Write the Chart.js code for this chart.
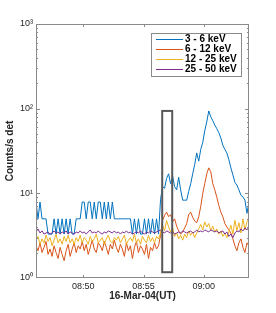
<!DOCTYPE html>
<html>
<head>
<meta charset="utf-8">
<script src="https://cdn.jsdelivr.net/npm/chart.js@4"></script>
<style>
  html, body { margin: 0; padding: 0; background: #ffffff; }
  #wrap { width: 276px; height: 313px; }
</style>
</head>
<body>
<div id="wrap"><canvas id="lcChart" width="276" height="313"></canvas></div>
<script>
// time base: minutes after 08:00, 10 s cadence
const startMinute = 46.08;
const cadenceMin = 1 / 6;

const seriesNames = ['3 - 6 keV', '6 - 12 keV', '12 - 25 keV', '25 - 50 keV'];

const band3to6 = [
    7.9, 5.0, 7.9, 5.0, 5.0, 5.0, 3.3, 3.3, 3.3, 5.0, 3.3, 5.0, 3.3, 5.0, 3.3, 5.0, 3.3, 5.0, 3.3, 3.3, 5.0,
    5.0, 5.0, 7.9, 7.9, 5.0, 7.9, 7.9, 5.0, 7.9, 5.0, 7.9, 7.9, 5.0, 7.9, 5.0, 7.9, 5.0, 7.9, 5.0, 5.0,
    5.0, 5.0, 5.0, 5.0, 5.0, 5.0, 5.0, 3.3, 5.0, 3.3, 5.0, 3.3, 3.3, 5.0, 3.3, 5.0, 3.3, 5.0, 3.3, 5.0, 3.3,
    8.5, 12, 11.5, 15, 17, 13, 16, 12, 11, 15.5, 11, 8.3, 8.3, 8.3, 10.5, 13, 17, 22, 30, 24,
    33, 40, 55, 70, 94, 80, 72, 64, 58, 52, 45, 37, 33, 30, 25, 20, 16.5, 13.5, 12.5, 11, 9.5, 9.1, 8.3, 5.8, 7.9
];

const band6to12 = [
    2.4, 2.1, 2.6, 2.0, 2.3, 2.7, 1.9, 2.2, 1.8, 2.4, 2.0, 1.7, 2.3, 1.9, 1.6, 2.1, 2.5, 1.8, 2.2, 2.6, 2.0,
    2.4, 2.2, 2.7, 2.1, 2.5, 1.9, 2.3, 2.8, 2.2, 2.0, 2.6, 2.4, 2.1, 2.7, 2.3, 1.9, 2.5, 2.2, 2.8, 2.3,
    2.0, 2.5, 2.2, 1.8, 2.6, 2.1, 2.4, 1.7, 2.3, 2.7, 2.0, 2.4, 2.2, 1.9, 2.5, 1.7, 2.3, 2.1, 2.6, 2.2, 2.4,
    3.2, 4.8, 5.5, 6.0, 5.3, 5.6, 4.6, 5.0, 4.1, 3.6, 3.3, 3.5, 3.9, 4.4, 5.6, 6.0, 5.2, 4.7, 4.5, 5.3,
    7.0, 10, 13, 17, 20, 18, 13, 11, 9, 7.2, 6.0, 5.3, 4.4, 4.0, 3.7, 3.4, 2.9, 2.4, 2.1, 2.6, 2.9, 2.3, 2.0, 2.6, 2.4
];

const band12to25 = [
    2.8, 3.1, 2.5, 2.9, 2.6, 3.2, 2.7, 3.0, 2.4, 2.8, 3.3, 2.6, 2.9, 2.5, 3.1, 2.7, 3.2, 2.6, 2.9, 2.5, 3.0,
    2.7, 3.2, 2.6, 3.0, 2.8, 2.5, 3.1, 2.7, 2.9, 3.3, 2.6, 2.8, 3.0, 2.5, 2.9, 3.2, 2.7, 2.6, 3.0, 2.8,
    3.1, 2.6, 2.9, 3.2, 2.5, 2.8, 3.0, 2.7, 3.3, 2.6, 2.9, 2.5, 3.1, 2.8, 2.6, 3.2, 2.7, 3.0, 2.6, 3.1, 2.9,
    3.4, 4.2, 3.6, 4.8, 4.0, 3.5, 3.9, 3.1, 3.4, 2.9, 3.2, 2.8, 3.3, 3.0, 3.6, 3.2, 3.5, 3.0, 3.4, 3.8,
    4.3, 3.7, 4.6, 4.0, 4.4, 3.6, 4.1, 3.5, 3.8, 3.3, 3.6, 3.1, 3.4, 3.0, 3.5, 4.2, 3.3, 4.8, 3.6, 4.5, 3.4, 5.0, 3.7, 4.6, 5.0
];

const band25to50 = [
    3.5, 3.8, 3.4, 3.6, 3.3, 3.4, 3.5, 3.3, 3.4, 3.6, 3.4, 3.5, 3.3, 3.5, 3.4, 3.6, 3.3, 3.5, 3.4, 3.3, 3.5,
    3.4, 3.6, 3.4, 3.5, 3.3, 3.5, 3.7, 3.4, 3.5, 3.4, 3.6, 3.4, 3.3, 3.5, 3.4, 3.6, 3.5, 3.4, 3.6, 3.4,
    3.5, 3.3, 3.5, 3.4, 3.6, 3.4, 3.5, 3.3, 3.4, 3.5, 3.4, 3.6, 3.4, 3.3, 3.5, 3.4, 3.6, 3.5, 3.4, 3.5, 3.6,
    3.7, 3.5, 3.4, 3.6, 3.5, 3.4, 3.5, 3.3, 3.4, 3.5, 3.4, 3.6, 3.5, 3.4, 3.5, 3.6, 3.4, 3.5, 3.7, 3.5,
    3.6, 3.5, 3.7, 3.6, 3.5, 3.7, 3.6, 3.5, 3.6, 3.4, 3.5, 3.6, 3.3, 3.5, 3.1, 3.3, 3.0, 3.4, 3.6, 3.5, 3.8, 3.6, 3.9, 3.7, 4.0
];

const xTickValues = [50, 55, 60];
const xTickLabels = ['08:50', '08:55', '09:00'];
const yTickValues = [1, 10, 100, 1000];
const yTickLabels = ['10\u2070', '10\u00b9', '10\u00b2', '10\u00b3'];

// highlighted interval (minutes, counts)
const boxStart = 56.55;
const boxEnd = 57.38;
const boxLow = 1.17;
const boxHigh = 94;

const colors = ['#0072BD', '#D95319', '#EDB120', '#7E2F8E'];
const FONT = "'Liberation Sans', Arial, Helvetica, sans-serif";

function toPoints(values) {
    return values.map((v, i) => ({ x: startMinute + i * cadenceMin, y: v }));
}

const framePlugin = {
    id: 'framePlugin',
    afterDraw(chart) {
        const ctx = chart.ctx;
        const area = chart.chartArea;
        const xs = chart.scales.x;
        const ys = chart.scales.y;
        ctx.save();

        // box marking the interval
        const bx1 = xs.getPixelForValue(boxStart);
        const bx2 = xs.getPixelForValue(boxEnd);
        const by1 = ys.getPixelForValue(boxHigh);
        const by2 = ys.getPixelForValue(boxLow);
        ctx.strokeStyle = '#595959';
        ctx.lineWidth = 2;
        ctx.strokeRect(bx1, by1, bx2 - bx1, by2 - by1);

        // axes frame
        ctx.strokeStyle = '#8a8a8a';
        ctx.lineWidth = 1;
        ctx.strokeRect(area.left + 0.5, area.top + 0.5, area.right - area.left - 1, area.bottom - area.top - 1);

        // y ticks, major and minor, on both sides
        ctx.beginPath();
        for (let d = 1; d < 1000; d *= 10) {
            for (let m = 1; m <= 9; m++) {
                const v = d * m;
                const py = Math.round(ys.getPixelForValue(v)) + 0.5;
                const len = m === 1 ? 4 : 2;
                if (v === 1) continue;
                ctx.moveTo(area.left, py);
                ctx.lineTo(area.left + len, py);
                ctx.moveTo(area.right, py);
                ctx.lineTo(area.right - len, py);
            }
        }
        // x ticks on top and bottom
        xTickValues.forEach(v => {
            const px = Math.round(xs.getPixelForValue(v)) + 0.5;
            ctx.moveTo(px, area.bottom);
            ctx.lineTo(px, area.bottom - 3);
            ctx.moveTo(px, area.top);
            ctx.lineTo(px, area.top + 3);
        });
        ctx.stroke();

        // legend box
        const lx = 151, ly = 33, lw = 90, lh = 43;
        ctx.fillStyle = '#ffffff';
        ctx.fillRect(lx, ly, lw, lh);
        ctx.strokeStyle = '#8a8a8a';
        ctx.strokeRect(lx + 0.5, ly + 0.5, lw, lh);
        ctx.font = 'bold 10px ' + FONT;
        ctx.textBaseline = 'middle';
        ctx.textAlign = 'left';
        seriesNames.forEach((name, i) => {
            const ry = ly + 6.5 + i * 10;
            ctx.strokeStyle = colors[i];
            ctx.lineWidth = 1;
            ctx.beginPath();
            ctx.moveTo(lx + 5, ry);
            ctx.lineTo(lx + 32, ry);
            ctx.stroke();
            ctx.fillStyle = '#000000';
            ctx.fillText(name, lx + 34, ry);
        });
        ctx.restore();
    }
};

const allSeries = [band3to6, band6to12, band12to25, band25to50];

new Chart(document.getElementById('lcChart'), {
    type: 'line',
    data: {
        datasets: allSeries.map((vals, i) => ({
            label: seriesNames[i],
            data: toPoints(vals),
            borderColor: colors[i],
            backgroundColor: colors[i],
            borderWidth: 1,
            pointRadius: 0,
            tension: 0,
            fill: false,
            order: 4 - i
        }))
    },
    options: {
        responsive: false,
        devicePixelRatio: 1,
        animation: false,
        layout: { padding: { left: 0, right: 27, top: 24, bottom: 0 } },
        plugins: {
            legend: { display: false },
            tooltip: { enabled: false }
        },
        scales: {
            x: {
                type: 'linear',
                min: 46.08,
                max: 63.75,
                grid: { display: false, drawTicks: false },
                border: { display: false },
                afterBuildTicks: function(scale) {
                    scale.ticks = xTickValues.map(v => ({ value: v }));
                },
                afterFit: function(scale) { scale.height = 35; },
                ticks: {
                    autoSkip: false,
                    maxRotation: 0,
                    padding: 3,
                    color: '#262626',
                    font: { family: FONT, size: 9 },
                    callback: function(value) {
                        const k = xTickValues.indexOf(value);
                        return k >= 0 ? xTickLabels[k] : '';
                    }
                },
                title: {
                    display: true,
                    text: '16-Mar-04(UT)',
                    color: '#262626',
                    padding: 11,
                    font: { family: FONT, size: 10, weight: 'bold' }
                }
            },
            y: {
                type: 'logarithmic',
                min: 1,
                max: 1000,
                grid: { display: false, drawTicks: false },
                border: { display: false },
                afterBuildTicks: function(scale) {
                    scale.ticks = yTickValues.map(v => ({ value: v }));
                },
                afterFit: function(scale) { scale.width = 36; },
                ticks: {
                    autoSkip: false,
                    padding: 3,
                    color: '#262626',
                    font: { family: FONT, size: 9 },
                    callback: function(value) {
                        const k = yTickValues.indexOf(value);
                        return k >= 0 ? yTickLabels[k] : '';
                    }
                },
                title: {
                    display: true,
                    text: 'Counts/s det',
                    color: '#262626',
                    padding: 4,
                    font: { family: FONT, size: 10, weight: 'bold' }
                }
            }
        }
    },
    plugins: [framePlugin]
});
</script>
</body>
</html>
